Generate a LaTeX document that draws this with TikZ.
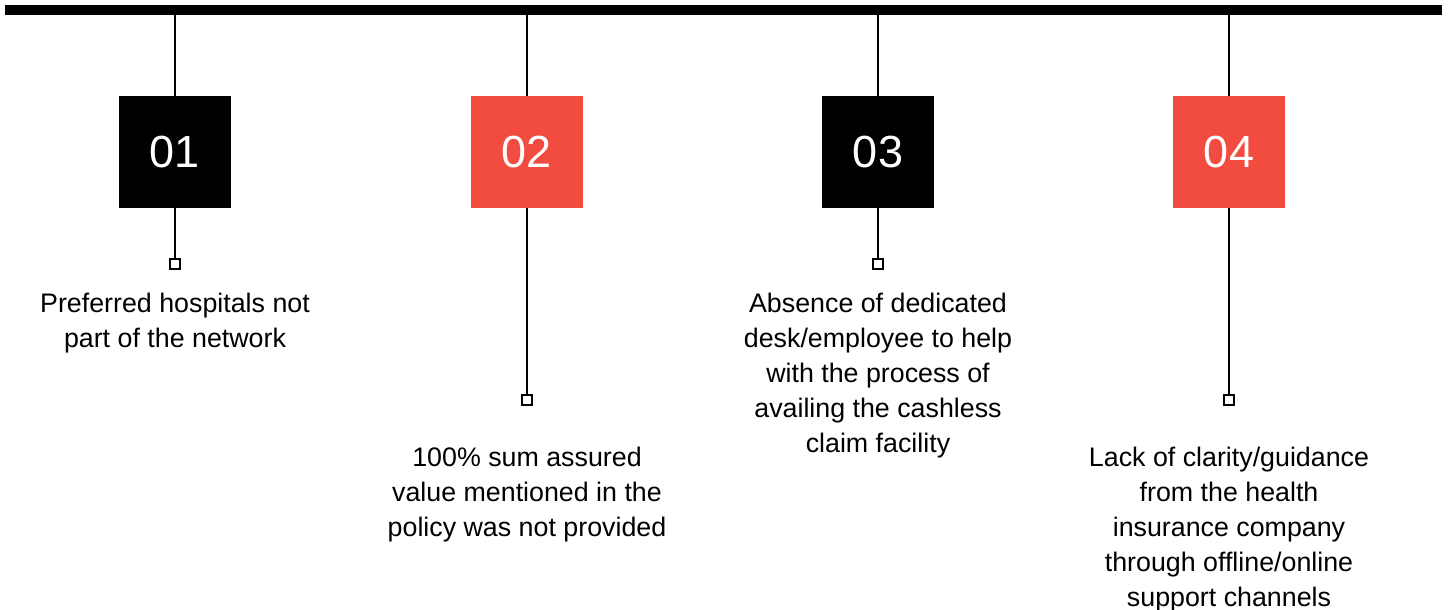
\documentclass[tikz,border=0pt]{standalone}
\usepackage{fontspec}
\setmainfont{Liberation Sans}
\definecolor{accent}{HTML}{F24C40}
\begin{document}
\begin{tikzpicture}[x=1pt,y=-1pt,
  numbox/.style={minimum size=112pt,inner sep=0pt,text=white,font=\fontsize{45}{45}\selectfont},
  endsq/.style={draw=black,line width=2pt,fill=white,minimum size=10pt,inner sep=0pt},
  conn/.style={line width=2pt},
  desc/.style={align=center,font=\fontsize{26.8}{35}\selectfont,anchor=north,inner sep=0pt}]
\useasboundingbox (0,0) rectangle (1449,610);
\coordinate (barL) at (5,10);
\coordinate (barR) at (1442,10);
\draw[line width=10pt] (barL) -- (barR);
% items
\foreach \i/\x/\col/\sy in {1/175/black/264,2/527/accent/400,3/878/black/264,4/1229/accent/400}{
  \coordinate (t\i) at (\x,10);
  \node[numbox,fill=\col] (b\i) at (\x,152) {0\i};
  \node[endsq] (s\i) at (\x,\sy) {};
  \draw[conn] (t\i) -- (b\i.north);
  \draw[conn] (b\i.south) -- (s\i.north);
}
\node[desc] (d1) at (175,293) {Preferred hospitals not\\part of the network};
\node[desc] (d2) at (527,447) {100\% sum assured\\value mentioned in the\\policy was not provided};
\node[desc] (d3) at (878,293) {Absence of dedicated\\desk/employee to help\\with the process of\\availing the cashless\\claim facility};
\node[desc] (d4) at (1229,447) {Lack of clarity/guidance\\from the health\\insurance company\\through offline/online\\support channels};
\end{tikzpicture}
\end{document}
